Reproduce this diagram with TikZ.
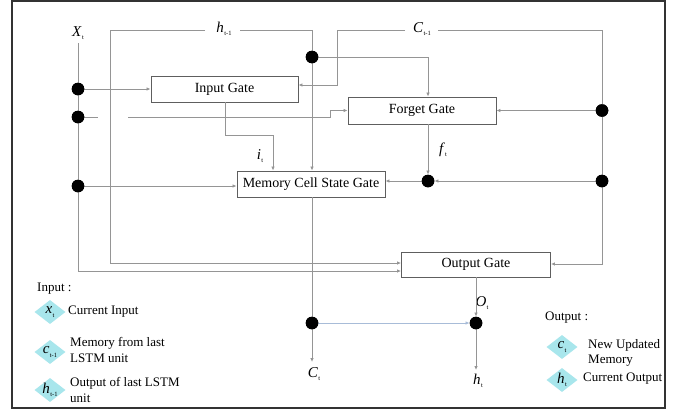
\documentclass[tikz,border=0pt]{standalone}
\usepackage{fontspec}
\setmainfont{Liberation Serif}
\usetikzlibrary{arrows.meta,shapes.geometric}
\definecolor{wirec}{HTML}{959595}
\definecolor{boxc}{HTML}{5E5E5E}
\definecolor{diac}{HTML}{A8E6EC}
\definecolor{bluec}{HTML}{A8BCD8}
\definecolor{framec}{HTML}{333333}
\newcommand\vsub[2]{\textit{#1}\kern0.3pt\raisebox{-0.5ex}{\fontsize{6.5}{6.5}\selectfont #2}}
\begin{document}
\begin{tikzpicture}[x=1pt,y=-1pt,
  gate/.style={draw=boxc,line width=0.9pt,fill=white,inner sep=0,font=\fontsize{14}{14}\selectfont},
  dotn/.style={circle,fill=black,inner sep=0,minimum size=12.5pt},
  wire/.style={draw=wirec,line width=1pt},
  arr/.style={-{Latex[length=4pt,width=3.5pt]}},
  lbl/.style={font=\fontsize{15}{15}\selectfont,inner sep=0},
  dlbl/.style={font=\fontsize{15}{15}\selectfont,inner sep=0},
  leg/.style={font=\fontsize{13}{15.5}\selectfont,inner sep=0,align=left,anchor=west},
  dia/.style={diamond,fill=diac,minimum width=31pt,minimum height=24pt,inner sep=0}]
\useasboundingbox (0,0) rectangle (674,410);
\fill[white] (0,0) rectangle (674,410);
\draw[framec,line width=1.5pt] (12,1.2) rectangle (665,408);

% gates
\node[gate,minimum width=147pt,minimum height=26pt] (ig) at (224.5,89) {Input Gate};
\node[gate,minimum width=148pt,minimum height=27pt] (fg) at (422,110.5) {Forget Gate};
\node[gate,minimum width=148pt,minimum height=26pt] (mg) at (311,184) {Memory Cell State Gate};
\node[gate,minimum width=149pt,minimum height=25pt] (og) at (476,264.5) {Output Gate};

% labels
\node[lbl] (lx) at (78,33) {\vsub{X}{t}};
\node[lbl] (lh) at (224,29) {\vsub{h}{t-1}};
\node[lbl] (lc) at (422,29) {\vsub{C}{t-1}};
\node[lbl] (li) at (260,156) {\vsub{i}{t}};
\node[lbl] (lf) at (443,150) {\vsub{f}{t}};
\node[lbl] (lo) at (482,303) {\vsub{O}{t}};
\node[lbl] (lct) at (314,374) {\vsub{C}{t}};
\node[lbl] (lht) at (478,381) {\vsub{h}{t}};

% coordinates
\coordinate (xtop) at (78,43);
\coordinate (xbot) at (78,271);
\coordinate (hl) at (205,30);
\coordinate (hr) at (240,30);
\coordinate (htl) at (110,30);
\coordinate (hbl) at (110,263);
\coordinate (htr) at (312,30);
\coordinate (cl) at (405,30);
\coordinate (cr) at (438,30);
\coordinate (ctl) at (337,30);
\coordinate (cil) at (337,85);
\coordinate (ctr) at (602,30);
\coordinate (cbr) at (602,264);
\coordinate (hdr) at (428,57);
\coordinate (fs) at (428,124);
\coordinate (is) at (225,102);
\coordinate (ib) at (225,135);
\coordinate (ib2) at (273,135);
\coordinate (ms) at (312,197);
\coordinate (ctend) at (312,362);
\coordinate (htend) at (476,370);
\coordinate (s1) at (98,117);
\coordinate (s2) at (128,117);
\coordinate (s3) at (330,117);
\coordinate (s4) at (330,110.5);

% dots
\node[dotn] (x1) at (78,89) {};
\node[dotn] (x2) at (78,117) {};
\node[dotn] (x3) at (78,186) {};
\node[dotn] (hd) at (312,57) {};
\node[dotn] (r1) at (602,110.5) {};
\node[dotn] (r2) at (602,181) {};
\node[dotn] (fd) at (428,181) {};
\node[dotn] (cd) at (312,323) {};
\node[dotn] (od) at (476,323) {};

% wires
\draw[wire,arr] (xtop) -- (xbot) -- (xbot -| og.west);
\draw[wire,arr] (x1) -- (ig.west);
\draw[wire] (x2) -- (s1);
\draw[wire,arr] (s2) -- (s3) -- (s4) -- (fg.west);
\draw[wire,arr] (x3) -- (x3 -| mg.west);
\draw[wire,arr] (hl) -- (htl) -- (hbl) -- (hbl -| og.west);
\draw[wire,arr] (hr) -- (htr) -- (htr |- mg.north);
\draw[wire,arr] (ms) -- (ctend);
\draw[wire,arr] (hd) -- (hdr) -- (hdr |- fg.north);
\draw[wire,arr] (cl) -- (ctl) -- (cil) -- (cil -| ig.east);
\draw[wire,arr] (cr) -- (ctr) -- (cbr) -- (cbr -| og.east);
\draw[wire,arr] (r1) -- (fg.east);
\draw[wire,arr] (r2) -- (fd);
\draw[wire,arr] (fd) -- (fd -| mg.east);
\draw[wire,arr] (fs) -- (fd);
\draw[wire,arr] (is) -- (ib) -- (ib2) -- (ib2 |- mg.north);
\draw[wire,arr] (og.south) -- (od);
\draw[wire,draw=bluec,arr] (cd) -- (od);
\draw[wire,arr] (od) -- (htend);

% dots on top of wires
\foreach \d in {x1,x2,x3,hd,r1,r2,fd,cd,od}{\fill[black] (\d) circle (6.3pt);}

% legend
\node[leg] (lin) at (37,289) {Input :};
\node[dia] (d1) at (50,312) {};
\node[dlbl] (d1t) at (d1) {\vsub{x}{t}};
\node[leg] (t1) at (68,312) {Current Input};
\node[dia] (d2) at (50,352) {};
\node[dlbl] (d2t) at (d2) {\vsub{c}{t-1}};
\node[leg] (t2) at (70,350) {Memory from last\\LSTM unit};
\node[dia] (d3) at (50,390) {};
\node[dlbl] (d3t) at (d3) {\vsub{h}{t-1}};
\node[leg] (t3) at (70,390) {Output of last LSTM\\unit};

\node[leg] (lout) at (545,318) {Output :};
\node[dia] (d4) at (562,347) {};
\node[dlbl] (d4t) at (d4) {\vsub{c}{t}};
\node[leg] (t4) at (588,353) {New Updated\\Memory};
\node[dia] (d5) at (562,380) {};
\node[dlbl] (d5t) at (d5) {\vsub{h}{t}};
\node[leg] (t5) at (583,379) {Current Output};
\end{tikzpicture}
\end{document}
